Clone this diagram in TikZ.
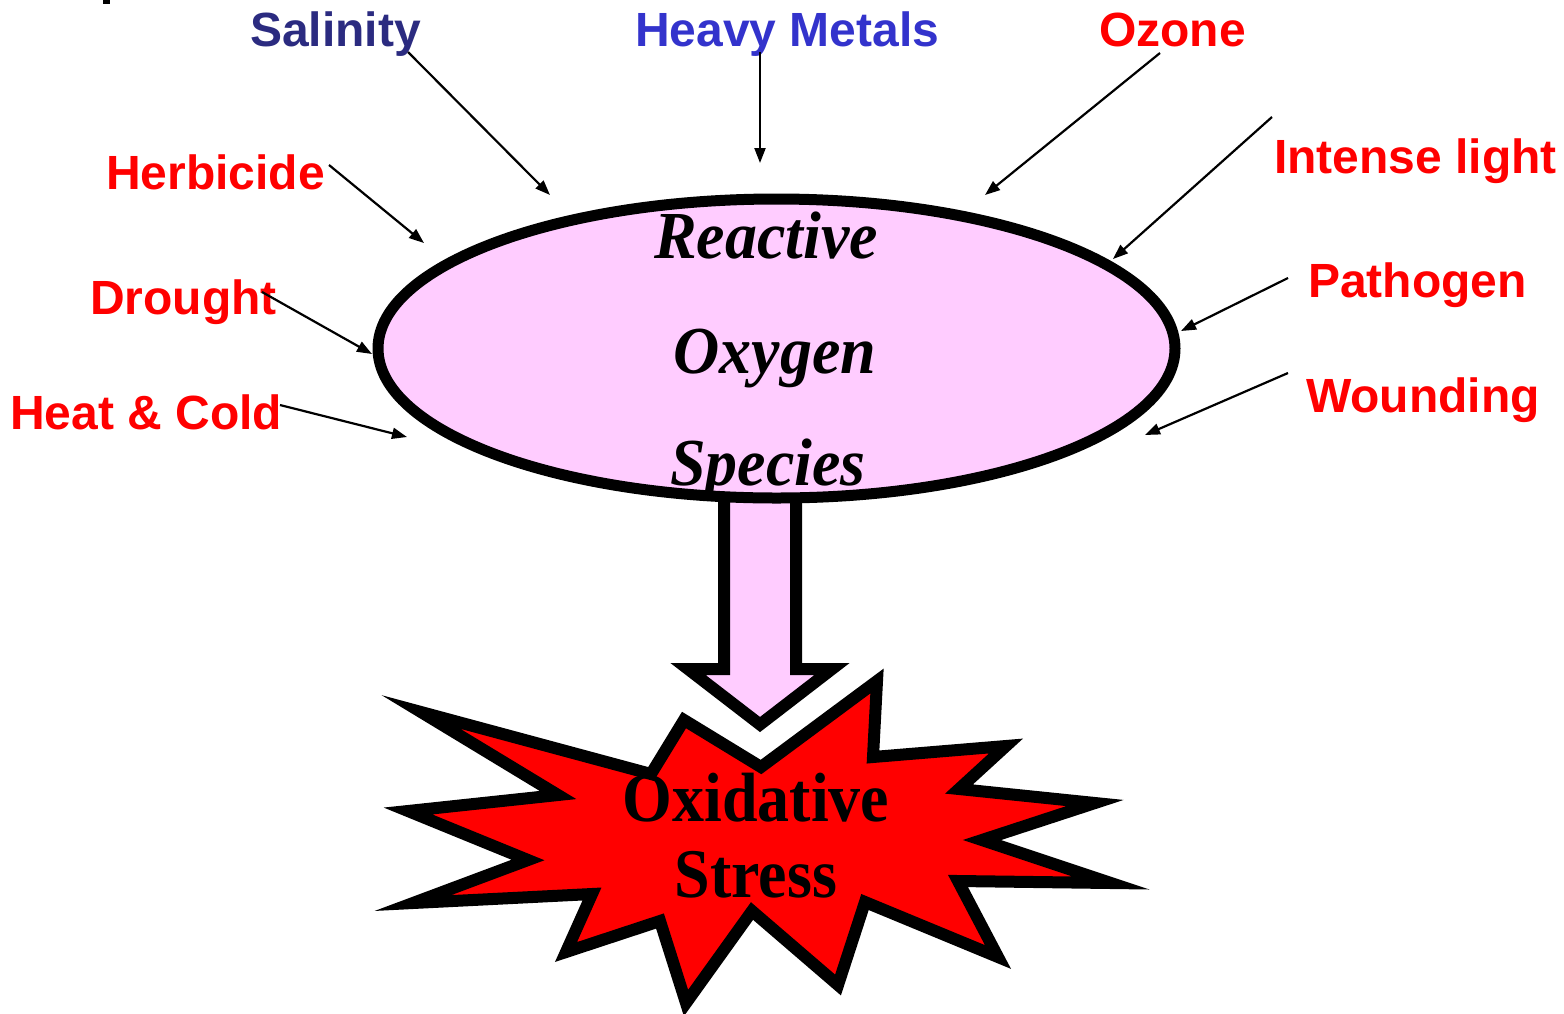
\documentclass[tikz,border=0pt]{standalone}
\usepackage{fontspec}
\setmainfont{Liberation Serif}
\newfontfamily\labfont{Liberation Sans}
\usetikzlibrary{arrows.meta,shapes.geometric}
\definecolor{rosPink}{HTML}{FFCCFF}
\definecolor{labRed}{HTML}{FF0000}
\definecolor{labNavy}{HTML}{2B2B80}
\definecolor{labBlue}{HTML}{3333CC}
\begin{document}
\begin{tikzpicture}[x=1pt,y=-1pt,
  lbl/.style={font=\labfont\bfseries\fontsize{48}{48}\selectfont, anchor=base west, inner sep=0pt, text=labRed},
  ptr/.style={line width=2.2pt, -{Triangle[length=15pt,width=11pt]}},
  rostxt/.style={font=\bfseries\itshape\fontsize{64}{64}\selectfont, anchor=base, inner sep=0pt},
  stresstxt/.style={font=\bfseries\fontsize{64}{64}\selectfont, anchor=base, inner sep=0pt}]
\useasboundingbox (0,0) rectangle (1564,1013);
\fill (103,0) rectangle (110,4);

% block arrow
\draw[line width=12pt, fill=rosPink, line join=miter]
  (724,470) -- (724,669) -- (688,669) -- (760,724.5) -- (832,669) -- (796,669) -- (796,470) -- cycle;

% star
\draw[line width=12pt, fill=labRed, line join=miter]
  (421,712) -- (651,774) -- (684,720) -- (761,767) -- (877,681) -- (873,757)
  -- (1006,746) -- (959,789) -- (1095,803) -- (982,840) -- (1111,883) -- (958,881)
  -- (998,957) -- (865,902) -- (838,985) -- (752,911) -- (686,1003) -- (660,921)
  -- (566,952) -- (592,894) -- (413,903) -- (528,860) -- (408,811) -- (558,795) -- cycle;

% ellipse
\node[ellipse, draw, line width=11pt, fill=rosPink, minimum width=797pt, minimum height=299pt, inner sep=0pt] (ros) at (776.5,348.5) {};

\node[rostxt] (t1) at (766,258) {\scalebox{1}[1.05]{Reactive}};
\node[rostxt] (t2) at (775,373) {\scalebox{1}[1.05]{Oxygen}};
\node[rostxt] (t3) at (768,485) {\scalebox{1}[1.05]{Species}};

\node[stresstxt] (s1) at (756,821) {\scalebox{1}[1.09]{Oxidative}};
\node[stresstxt] (s2) at (756,897) {\scalebox{1}[1.09]{Stress}};

% labels
\node[lbl, text=labNavy] (sal) at (250,46) {Salinity};
\node[lbl, text=labBlue] (hm) at (635,46) {Heavy Metals};
\node[lbl] (oz) at (1099,46) {Ozone};
\node[lbl] (il) at (1274,173) {Intense light};
\node[lbl] (pa) at (1308,297) {Pathogen};
\node[lbl] (wo) at (1306,412) {Wounding};
\node[lbl] (he) at (106,189) {Herbicide};
\node[lbl] (dr) at (90,314) {Drought};
\node[lbl] (hc) at (10,429) {Heat \& Cold};

% connector endpoints
\coordinate (salA) at (408,52);   \coordinate (salB) at (550,195);
\coordinate (hmA) at (760,52);    \coordinate (hmB) at (760,163);
\coordinate (ozA) at (1160,53);   \coordinate (ozB) at (985,195);
\coordinate (ilA) at (1272,117);  \coordinate (ilB) at (1113,259);
\coordinate (paA) at (1288,278);  \coordinate (paB) at (1181,331);
\coordinate (woA) at (1288,373);  \coordinate (woB) at (1145,435);
\coordinate (heA) at (329,165);   \coordinate (heB) at (424,243);
\coordinate (drA) at (262,292);   \coordinate (drB) at (372,354);
\coordinate (hcA) at (280,405);   \coordinate (hcB) at (407,437);

\draw[ptr] (salA) -- (salB);
\draw[ptr] (hmA) -- (hmB);
\draw[ptr] (ozA) -- (ozB);
\draw[ptr] (ilA) -- (ilB);
\draw[ptr] (paA) -- (paB);
\draw[ptr] (woA) -- (woB);
\draw[ptr] (heA) -- (heB);
\draw[ptr] (drA) -- (drB);
\draw[ptr] (hcA) -- (hcB);
\end{tikzpicture}
\end{document}
